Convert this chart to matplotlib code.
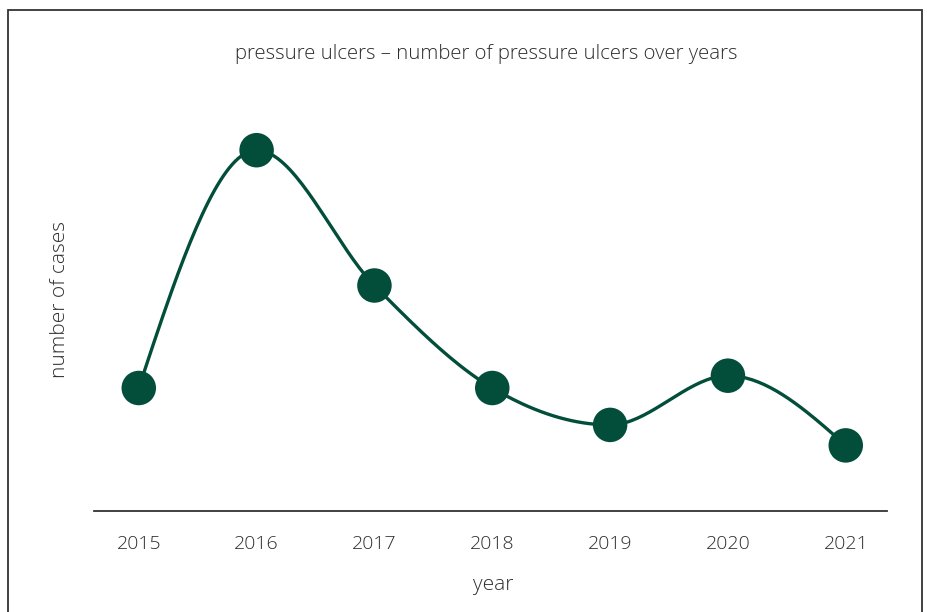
import numpy as np
import matplotlib
matplotlib.use("Agg")
import matplotlib.pyplot as plt
from matplotlib.patches import Rectangle

years = [2015, 2016, 2017, 2018, 2019, 2020, 2021]
cases = [30, 88, 55, 30, 21, 33, 16]

COLOR = "#034e3b"
TXT = "#2e2e2e"
plt.rcParams['font.family'] = ['Open Sans', 'DejaVu Sans']


def monotone_x(x, y, n=40):
    x = np.asarray(x, float)
    y = np.asarray(y, float)
    h = np.diff(x)
    s = np.diff(y) / h
    t = np.zeros_like(y)
    for i in range(1, len(x) - 1):
        h0, h1 = h[i - 1], h[i]
        s0, s1 = s[i - 1], s[i]
        p = (s0 * h1 + s1 * h0) / (h0 + h1)
        t[i] = (np.sign(s0) + np.sign(s1)) * min(abs(s0), abs(s1), 0.5 * abs(p))
    t[0] = (3 * s[0] - t[1]) / 2
    t[-1] = (3 * s[-1] - t[-2]) / 2
    xs, ys = [], []
    for i in range(len(x) - 1):
        u = np.linspace(0, 1, n)
        dx = h[i]
        p0, p3 = y[i], y[i + 1]
        p1 = y[i] + dx * t[i] / 3
        p2 = y[i + 1] - dx * t[i + 1] / 3
        q0, q3 = x[i], x[i + 1]
        q1, q2 = x[i] + dx / 3, x[i + 1] - dx / 3
        b = [(1 - u) ** 3, 3 * u * (1 - u) ** 2, 3 * u ** 2 * (1 - u), u ** 3]
        xs.append(b[0] * q0 + b[1] * q1 + b[2] * q2 + b[3] * q3)
        ys.append(b[0] * p0 + b[1] * p1 + b[2] * p2 + b[3] * p3)
    return np.concatenate(xs), np.concatenate(ys)


fig = plt.figure(figsize=(9.28, 6.12), dpi=100)
W, H = 928, 612
ax = fig.add_axes([94 / W, (H - 511) / H, (887 - 94) / W, (511 - 60) / H])

sx, sy = monotone_x(years, cases)
ax.plot(sx, sy, color=COLOR, lw=2.4, zorder=2, solid_capstyle='round')
ax.scatter(years, cases, s=(34.5 * 0.72) ** 2, color=COLOR, zorder=3, edgecolors='none')

ax.set_xlim(2014.62, 2021.35)
ax.set_ylim(0, 110)
ax.set_xticks(years)
ax.set_xticklabels([str(y) for y in years])
ax.set_yticks([])
for sp in ['top', 'right', 'left']:
    ax.spines[sp].set_visible(False)
ax.spines['bottom'].set_color('#333333')
ax.spines['bottom'].set_linewidth(1.3)
ax.tick_params(axis='x', length=0, pad=17, labelsize=14, labelcolor=TXT)
for lab in ax.get_xticklabels():
    lab.set_fontweight('light')

fig.text(486 / W, 1 - 54 / H, "pressure ulcers \u2013 number of pressure ulcers over years",
         ha='center', va='center', fontsize=14.7, color=TXT, fontweight='light')
fig.text(60 / W, 1 - 299 / H, "number of cases", rotation=90, ha='center', va='center',
         fontsize=15, color=TXT, fontweight='light')
fig.text(493 / W, 1 - 585 / H, "year", ha='center', va='center',
         fontsize=15, color=TXT, fontweight='light')

fig.add_artist(Rectangle((7.5 / W, -0.1), (922 - 7.5) / W, 1.1 - 9.5 / H, transform=fig.transFigure,
                         fill=False, edgecolor='#333333', lw=1.3))

fig.savefig("out.png", dpi=100)
